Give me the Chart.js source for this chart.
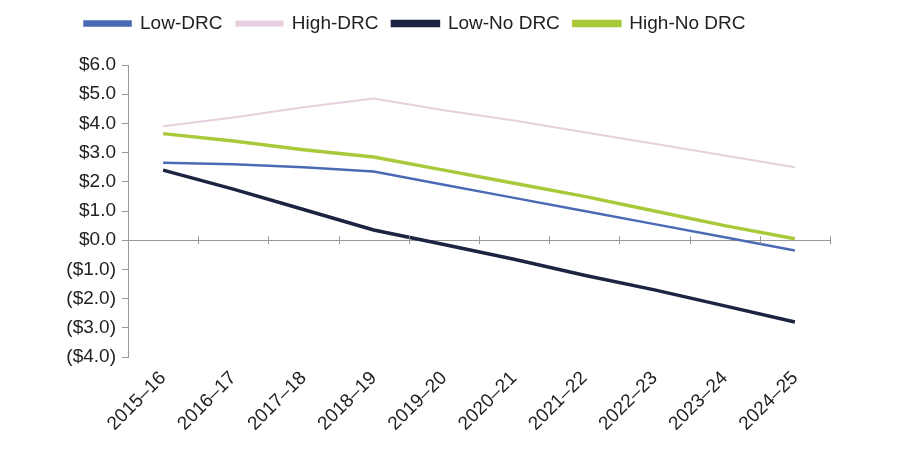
<!DOCTYPE html>
<html><head><meta charset="utf-8">
<script src="https://cdn.jsdelivr.net/npm/chart.js@4"></script>
<style>body{margin:0;background:#fff}#wrap{width:904px;height:469px}</style>
</head><body><div id="wrap"><canvas id="c"></canvas></div>
<script>
const years = ['2015–16','2016–17','2017–18','2018–19','2019–20','2020–21','2021–22','2022–23','2023–24','2024–25'];
const lowDrc = [2.65, 2.6, 2.5, 2.35, 1.9, 1.45, 1.0, 0.55, 0.1, -0.35];
const highDrc = [3.9, 4.2, 4.55, 4.85, 4.45, 4.1, 3.7, 3.3, 2.9, 2.5];
const lowNoDrc = [2.4, 1.75, 1.05, 0.35, -0.15, -0.65, -1.2, -1.7, -2.25, -2.8];
const highNoDrc = [3.65, 3.4, 3.1, 2.85, 2.4, 1.95, 1.5, 1.0, 0.5, 0.05];

const font = { family: 'Liberation Sans, Arial, sans-serif', size: 19 };

// small tick marks crossing the zero line, at category boundaries
const zeroTicks = {
    id: 'zeroTicks',
    beforeInit(chart) {
        const fit = chart.legend.fit;
        chart.legend.fit = function () { fit.call(this); this.height = 65; };
    },
    afterDraw(chart) {
        const ctx = chart.ctx, x = chart.scales.x, y = chart.scales.y;
        const y0 = y.getPixelForValue(0);
        const step = x.getPixelForValue(1) - x.getPixelForValue(0);
        ctx.save();
        ctx.strokeStyle = '#999';
        ctx.lineWidth = 1;
        for (let i = 0; i <= years.length; i++) {
            const edge = x.getPixelForValue(0) - step / 2 + i * step;
            ctx.beginPath();
            ctx.moveTo(Math.round(edge) + 0.5, y0 - 4);
            ctx.lineTo(Math.round(edge) + 0.5, y0 + 4);
            ctx.stroke();
        }
        ctx.restore();
    }
};

new Chart(document.getElementById('c'), {
    type: 'line',
    data: {
        labels: years,
        datasets: [
            { label: 'Low-DRC', data: lowDrc, borderColor: '#4a6bb3', backgroundColor: '#4a6bb3', borderWidth: 2.5 },
            { label: 'High-DRC', data: highDrc, borderColor: '#e6cfdf', backgroundColor: '#e6cfdf', borderWidth: 2 },
            { label: 'Low-No DRC', data: lowNoDrc, borderColor: '#1b2440', backgroundColor: '#1b2440', borderWidth: 3.5 },
            { label: 'High-No DRC', data: highNoDrc, borderColor: '#a9c93b', backgroundColor: '#a9c93b', borderWidth: 3.5 }
        ]
    },
    options: {
        responsive: true,
        maintainAspectRatio: false,
        animation: false,
        elements: { point: { radius: 0 }, line: { tension: 0 } },
        layout: { padding: { left: 0, right: 74, top: 0, bottom: 0 } },
        plugins: {
            legend: {
                align: 'center',
                labels: { font: font, color: '#222', boxWidth: 46, boxHeight: 4, padding: 14 }
            },
            tooltip: { enabled: false }
        },
        scales: {
            x: {
                offset: true,
                border: { display: false },
                grid: { display: false },
                afterFit: s => { s.height = 112; },
                ticks: { font: font, color: '#222', maxRotation: 45, minRotation: 45, padding: 2 }
            },
            y: {
                min: -4, max: 6,
                border: { display: true, color: '#999' },
                afterFit: s => { s.width = 128; },
                grid: {
                    drawOnChartArea: true,
                    tickLength: 6,
                    color: c => c.tick && c.tick.value === 0 ? '#999' : 'rgba(0,0,0,0)',
                    tickColor: '#999'
                },
                ticks: {
                    stepSize: 1, font: font, color: '#222', padding: 6,
                    callback: v => v < 0 ? '($' + Math.abs(v).toFixed(1) + ')' : '$' + v.toFixed(1)
                }
            }
        }
    },
    plugins: [zeroTicks]
});
</script></body></html>
